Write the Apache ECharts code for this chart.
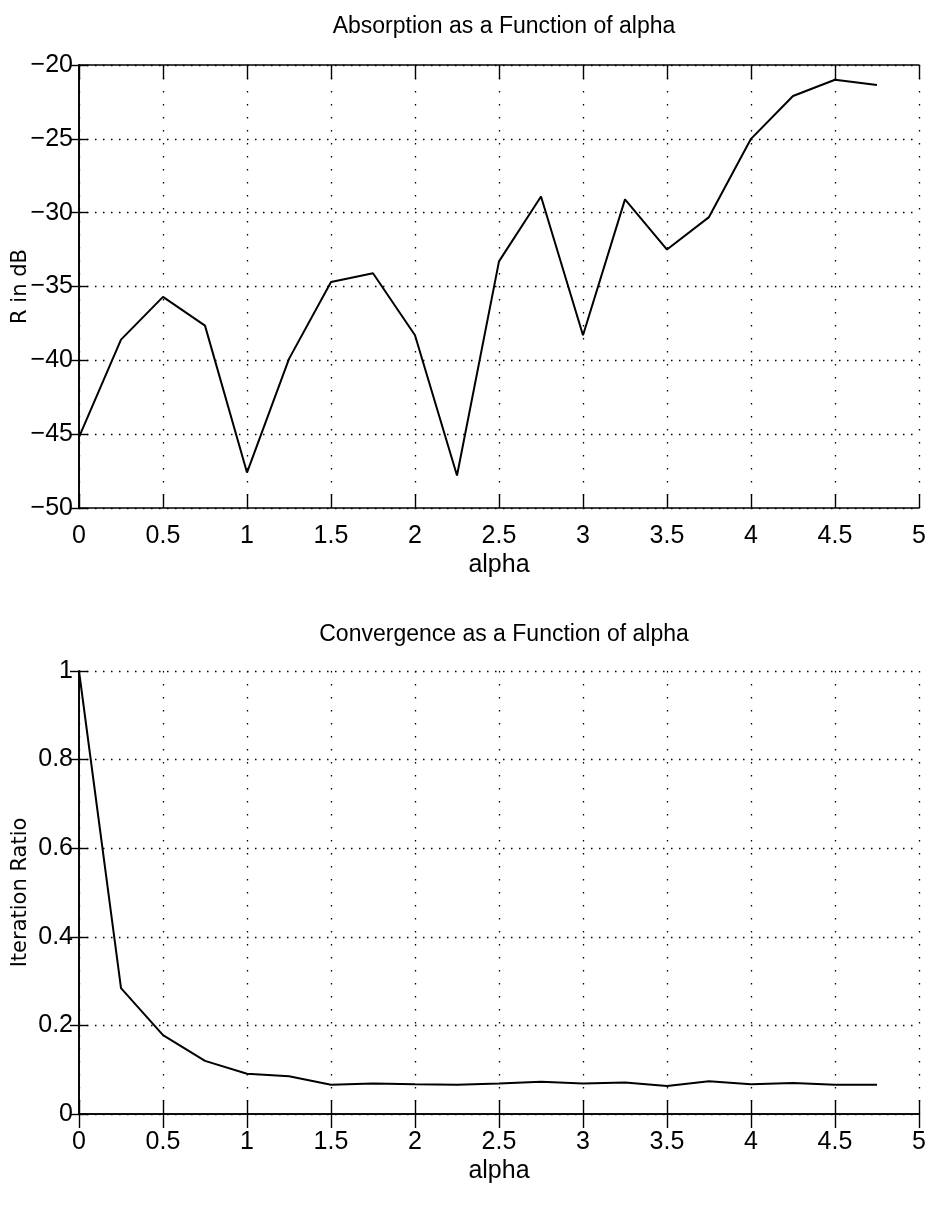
<!DOCTYPE html>
<html>
<head>
<meta charset="utf-8">
<script src="https://cdn.jsdelivr.net/npm/echarts@6/dist/echarts.min.js"></script>
<style>
  html, body { margin: 0; padding: 0; background: #fff; }
  #main { width: 933px; height: 1207px; }
</style>
</head>
<body>
<div id="main"></div>
<script>
  // alpha values (x axis)
  var alpha = [0, 0.25, 0.5, 0.75, 1, 1.25, 1.5, 1.75, 2, 2.25, 2.5, 2.75, 3, 3.25, 3.5, 3.75, 4, 4.25, 4.5, 4.75]
  // R in dB
  var absorption = [-45.2, -38.6, -35.7, -37.65, -47.6, -39.9, -34.7, -34.1, -38.3, -47.8,
    -33.3, -28.9, -38.3, -29.1, -32.5, -30.3, -25.0, -22.1, -21.0, -21.35]
  // Iteration Ratio
  var convergence = [1.0, 0.284, 0.178, 0.12, 0.091, 0.085, 0.066, 0.069, 0.067, 0.066,
    0.069, 0.073, 0.069, 0.071, 0.063, 0.074, 0.067, 0.070, 0.066, 0.066]

  var titles = ['Absorption as a Function of alpha', 'Convergence as a Function of alpha']
  var yNames = ['R in dB', 'Iteration Ratio']

  var font = '"Liberation Sans", Arial, sans-serif'
  var axisLine = { show: true, lineStyle: { color: '#000', width: 1.6 } }

  function pairs(ys) {
    return alpha.map(function (a, i) { return [a, ys[i]] })
  }

  function xAxes(gi) {
    var base = {
      type: 'value', gridIndex: gi, min: 0, max: 5, interval: 0.5,
      axisLine: axisLine,
      axisTick: { show: true, inside: true, length: 14, lineStyle: { color: '#000', width: 1.4 } }
    }
    return [
      Object.assign({}, base, {
        position: 'bottom',
        name: 'alpha', nameLocation: 'middle', nameGap: 45, nameMoveOverlap: false,
        nameTextStyle: { fontFamily: font, fontSize: 25, color: '#000' },
        axisLabel: { fontFamily: font, fontSize: 25, color: '#000', margin: 16 },
        splitLine: { show: true, lineStyle: { color: '#000', width: 1.3, type: [1.5, 11.5] } }
      }),
      Object.assign({}, base, {
        position: 'top', axisLabel: { show: false }, splitLine: { show: false }
      })
    ]
  }

  function yAxes(gi, min, max, step) {
    var base = {
      type: 'value', gridIndex: gi, min: min, max: max, interval: step,
      axisLine: axisLine,
      axisTick: { show: true, inside: true, length: 9, lineStyle: { color: '#000', width: 1.4 } }
    }
    return [
      Object.assign({}, base, {
        position: 'left',
        name: yNames[gi], nameLocation: 'middle', nameRotate: 90, nameGap: 48, nameMoveOverlap: false,
        nameTextStyle: { fontFamily: '"DejaVu Sans", sans-serif', fontSize: 21, color: '#000' },
        axisLabel: {
          fontFamily: font, fontSize: 25, color: '#000', margin: 6,
          formatter: function (v) { return String(v).replace('-', '\u2212') }
        },
        splitLine: { show: true, lineStyle: { color: '#000', width: 1.3, type: [1.5, 6.5] } }
      }),
      Object.assign({}, base, {
        position: 'right', axisLabel: { show: false }, splitLine: { show: false }
      })
    ]
  }

  var myChart = echarts.init(document.getElementById('main'))

  var option = {
    backgroundColor: '#fff',
    animation: false,
    title: [
      { text: titles[0], left: 499, top: 10, textAlign: 'center',
        textStyle: { fontFamily: font, fontSize: 23, fontWeight: 'normal', color: '#000' } },
      { text: titles[1], left: 499, top: 618, textAlign: 'center',
        textStyle: { fontFamily: font, fontSize: 23, fontWeight: 'normal', color: '#000' } }
    ],
    grid: [
      { left: 79, top: 65, width: 840, height: 443, containLabel: false, outerBoundsMode: 'none' },
      { left: 79, top: 671, width: 840, height: 443, containLabel: false, outerBoundsMode: 'none' }
    ],
    xAxis: xAxes(0).concat(xAxes(1)),
    yAxis: yAxes(0, -50, -20, 5).concat(yAxes(1, 0, 1, 0.2)),
    series: [
      {
        type: 'line', xAxisIndex: 0, yAxisIndex: 0,
        data: pairs(absorption), symbol: 'none',
        lineStyle: { color: '#000', width: 2 }
      },
      {
        type: 'line', xAxisIndex: 2, yAxisIndex: 2,
        data: pairs(convergence), symbol: 'none',
        lineStyle: { color: '#000', width: 2 }
      }
    ]
  }
  myChart.setOption(option)
</script>
</body>
</html>
